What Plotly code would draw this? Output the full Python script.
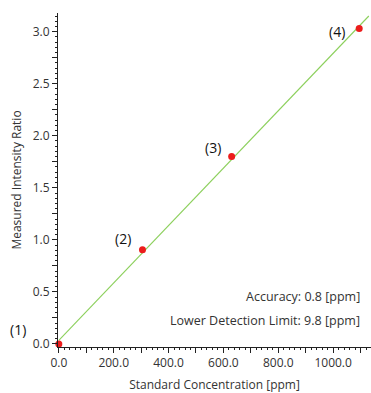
import numpy as np
import plotly.graph_objects as go

# Data
conc = [0.0, 305.0, 630.0, 1095.0]
ratio = [0.0, 0.905, 1.80, 3.03]
point_labels = ["(1)", "(2)", "(3)", "(4)"]
fit_x = [0.0, 1130.0]

x_tickvals = [0, 100, 200, 300, 400, 500, 600, 700, 800, 900, 1000, 1100]
x_ticktext = ["0.0", "", "200.0", "", "400.0", "", "600.0", "", "800.0", "", "1000.0", ""]
y_tickvals = [0, 0.25, 0.5, 0.75, 1.0, 1.25, 1.5, 1.75, 2.0, 2.25, 2.5, 2.75, 3.0]
y_ticktext = ["0.0", "", "0.5", "", "1.0", "", "1.5", "", "2.0", "", "2.5", "", "3.0"]

slope, intercept = np.polyfit(conc, ratio, 1)
fit_y = [slope * x + intercept for x in fit_x]

FONT = "Open Sans"
TXT = "#333333"

fig = go.Figure()
fig.add_trace(go.Scatter(x=fit_x, y=fit_y, mode="lines",
                         line=dict(color="#8cd05c", width=1.1), hoverinfo="skip"))
fig.add_trace(go.Scatter(x=conc, y=ratio, mode="markers", cliponaxis=False,
                         marker=dict(color="#ec1c1c", size=7)))

shifts = [(-41, 14), (-19, 11), (-19, 9), (-22, -3)]
for x, y, t, (dx, dy) in zip(conc, ratio, point_labels, shifts):
    fig.add_annotation(x=x, y=y, text=t, showarrow=False,
                       xshift=dx, yshift=dy, font=dict(family=FONT, size=14, color="#111111"))

fig.add_annotation(xref="paper", yref="paper", x=0.97, y=0.150, xanchor="right", yanchor="middle",
                   text="Accuracy: 0.8 [ppm]", showarrow=False,
                   font=dict(family=FONT, size=12.5, color=TXT))
fig.add_annotation(xref="paper", yref="paper", x=0.97, y=0.078, xanchor="right", yanchor="middle",
                   text="Lower Detection Limit: 9.8 [ppm]", showarrow=False,
                   font=dict(family=FONT, size=12.5, color=TXT))

axis_common = dict(showgrid=False, zeroline=False, showline=True, linecolor="#222222",
                   linewidth=1, ticks="outside", ticklen=5, tickcolor="#222222",
                   tickfont=dict(family=FONT, size=12, color=TXT))

fig.update_xaxes(range=[-3, 1138], tickmode="array", tickvals=x_tickvals, ticktext=x_ticktext,
                 minor=dict(dtick=20, ticks="outside", ticklen=2, tickcolor="#222222"),
                 title=dict(text="Standard Concentration [ppm]", standoff=11,
                            font=dict(family=FONT, size=12, color=TXT)),
                 **axis_common)
fig.update_yaxes(range=[-0.03, 3.18], tickmode="array", tickvals=y_tickvals, ticktext=y_ticktext,
                 minor=dict(dtick=0.05, ticks="outside", ticklen=2, tickcolor="#222222"),
                 title=dict(text="Measured Intensity Ratio", standoff=8,
                            font=dict(family=FONT, size=12, color=TXT)),
                 **axis_common)

fig.update_layout(width=371, height=393, margin=dict(l=58, r=0, t=13, b=46, autoexpand=False),
                  paper_bgcolor="white", plot_bgcolor="white", showlegend=False)

fig.write_html("out.html", config={"displayModeBar": False},
               post_script="document.body.style.margin='0';document.body.style.overflow='hidden';")
